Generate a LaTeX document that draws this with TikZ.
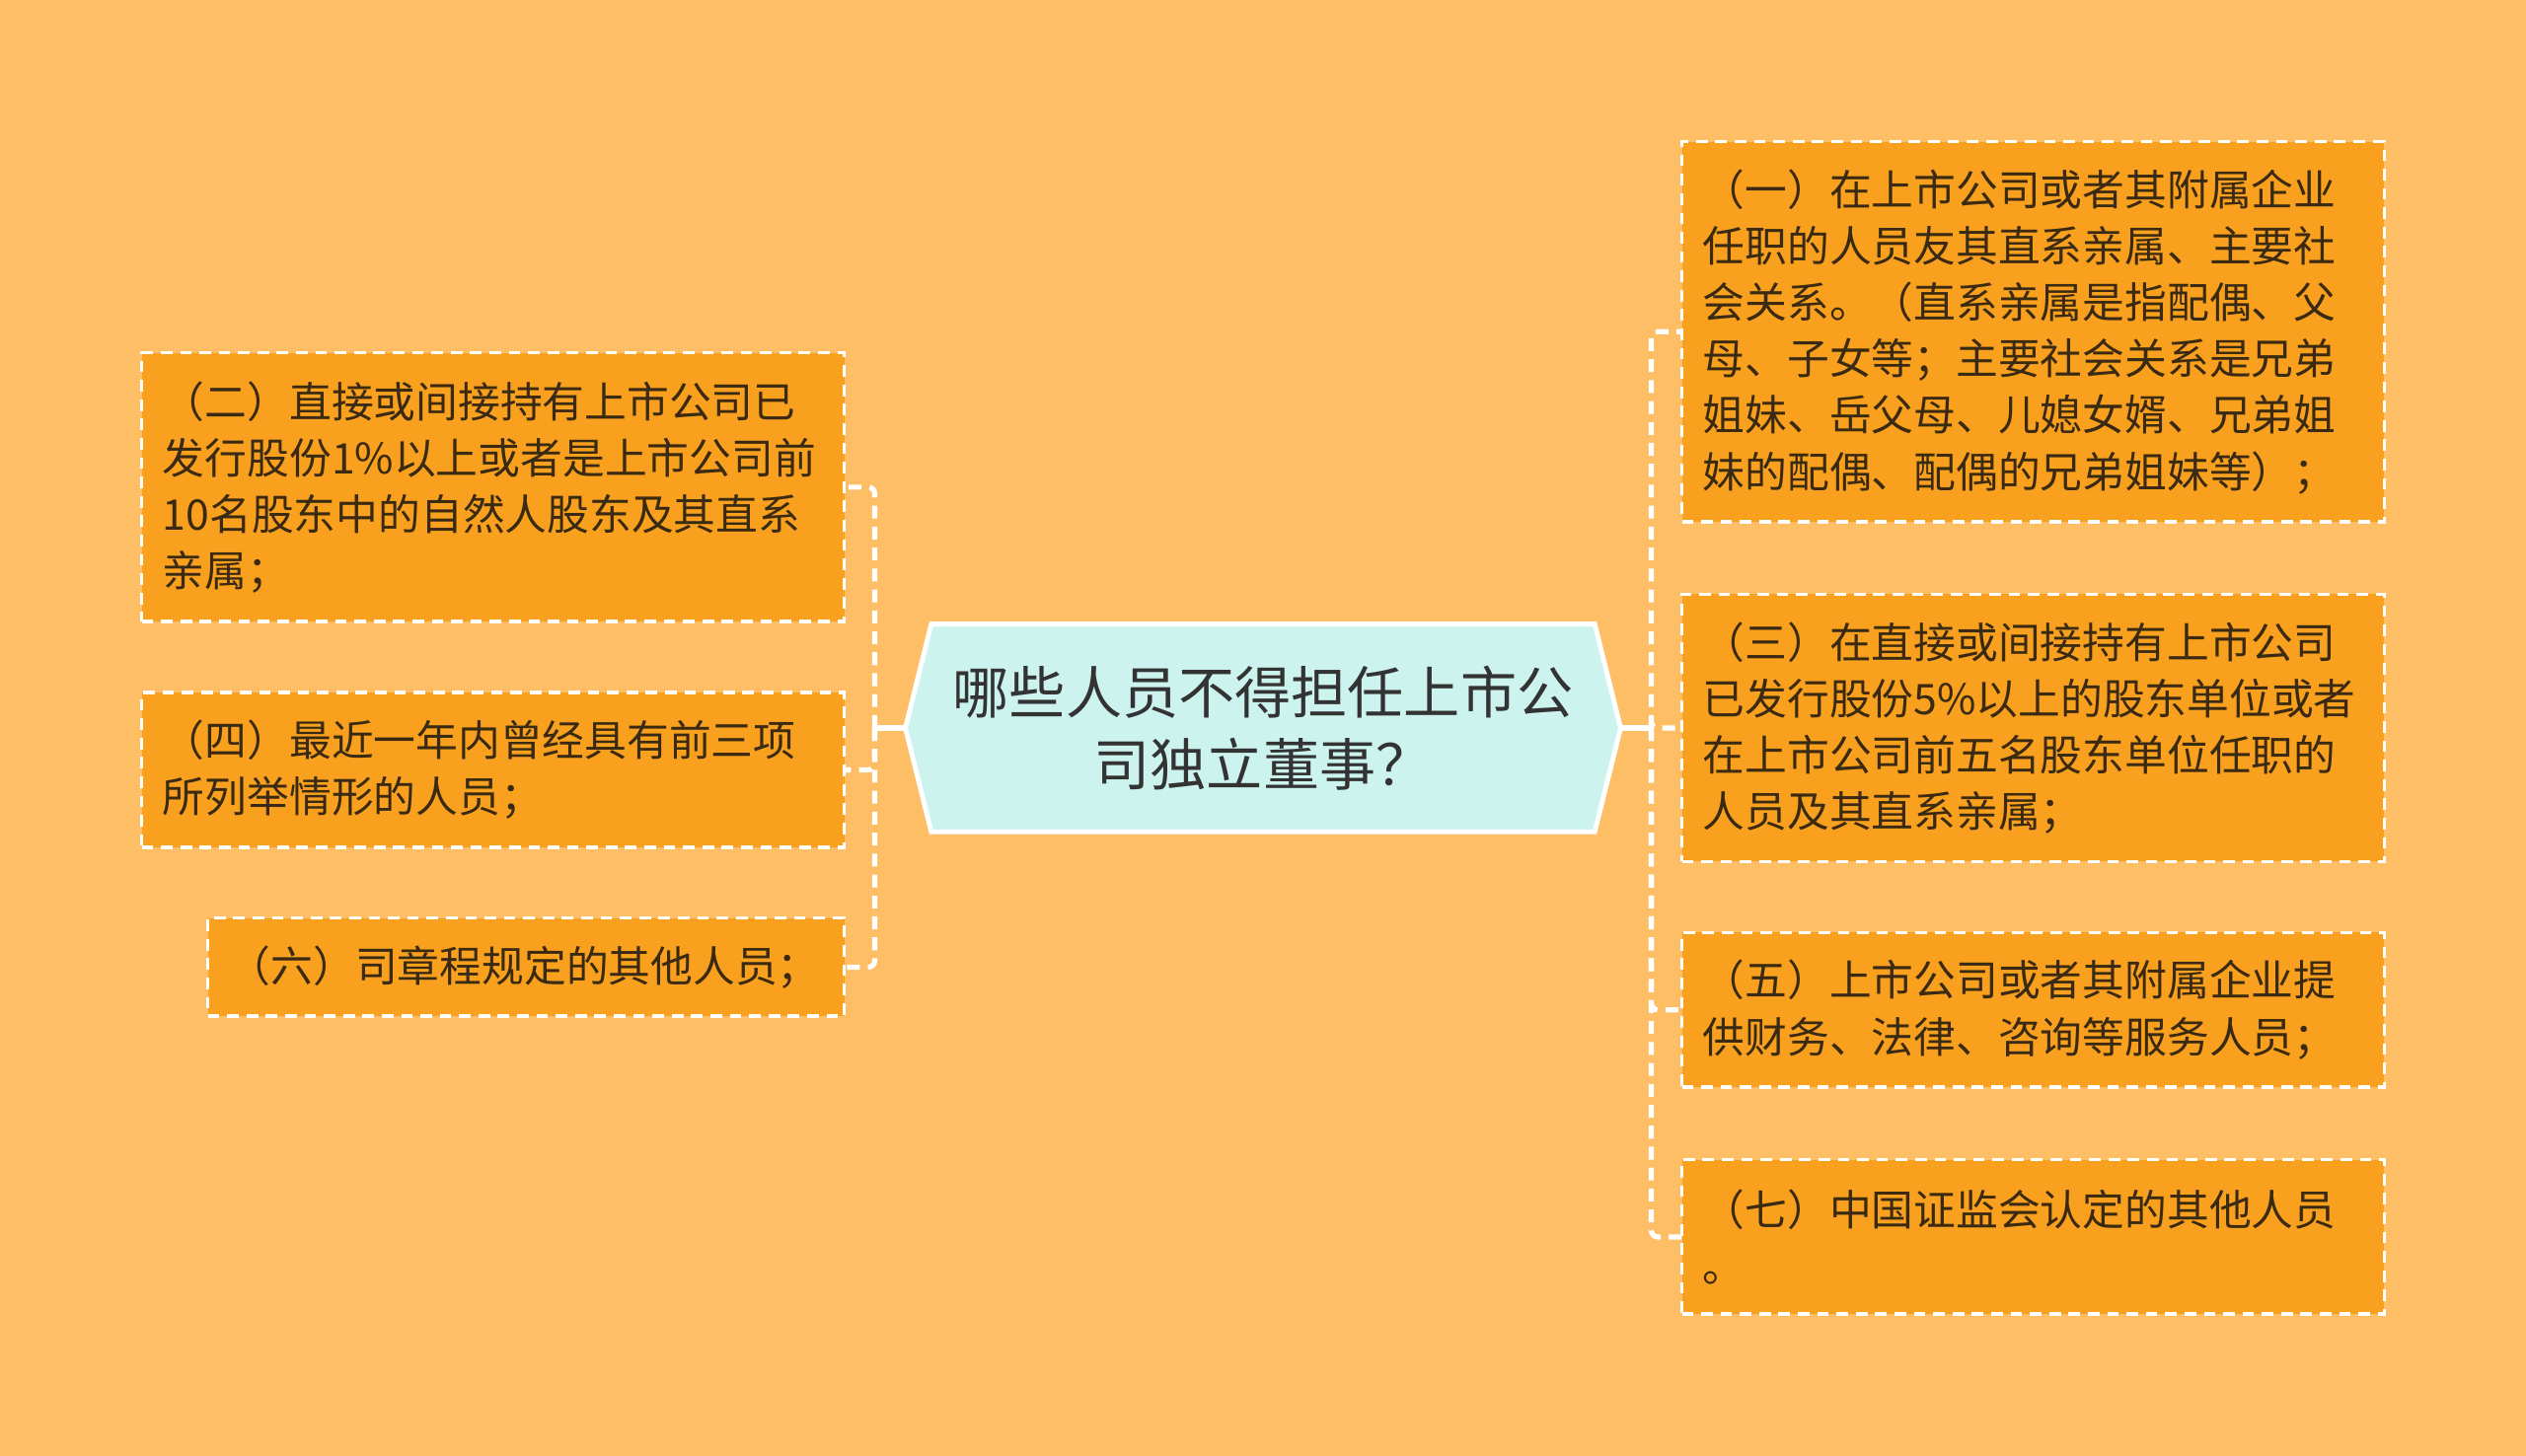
\documentclass[tikz,border=0pt]{standalone}
\usepackage{fontspec}
\setmainfont{Noto Sans CJK SC}
\usepackage{tikz}
\usetikzlibrary{positioning}
\usetikzlibrary{shapes.symbols}

\definecolor{canvas}{HTML}{FDBE66}
\definecolor{boxfill}{HTML}{F9A11F}
\definecolor{topicfill}{HTML}{CDF3EF}
\definecolor{inktext}{HTML}{3A2A12}

\begin{document}
\begin{tikzpicture}[x=0.5pt,y=-0.5pt,
	item/.style={minimum width=218pt,text width=205pt,inner xsep=6.5pt,inner ysep=0pt,outer sep=0pt,fill=boxfill,draw=white,line width=1.1pt,dash pattern=on 3.6pt off 2.4pt,align=left,text=inktext,font=\fontsize{13.1pt}{17.5pt}\selectfont},
	link/.style={draw=white,line width=1.6pt,dash pattern=on 4pt off 2.5pt,rounded corners=2pt},
	stem/.style={draw=white,line width=1.6pt}]
	\fill [canvas] (0,0) rectangle (1568,904);

	\node [signal,signal to=west and east,signal pointer angle=152,minimum width=222pt,minimum height=64.5pt,inner sep=0pt,outer sep=0pt,fill=topicfill,draw=white,line width=1.5pt,align=center,text=black!80,font=\fontsize{17.5pt}{22.5pt}\selectfont] at (784,452) (topic) {哪些人员不得担任上市公\\司独立董事？};

	\node [item,minimum height=118pt,anchor=north west] at (1044,88) (b1) {（一）在上市公司或者其附属企业\\任职的人员友其直系亲属、主要社\\会关系。（直系亲属是指配偶、父\\母、子女等；主要社会关系是兄弟\\姐妹、岳父母、儿媳女婿、兄弟姐\\妹的配偶、配偶的兄弟姐妹等）；};
	\node [item,minimum height=83pt,below=22.5pt of b1] (b3) {（三）在直接或间接持有上市公司\\已发行股份5\%以上的股东单位或者\\在上市公司前五名股东单位任职的\\人员及其直系亲属；};
	\node [item,minimum height=48pt,below=22pt of b3] (b5) {（五）上市公司或者其附属企业提\\供财务、法律、咨询等服务人员；};
	\node [item,minimum height=48pt,below=22.5pt of b5] (b7) {（七）中国证监会认定的其他人员\\。};

	\node [item,minimum width=217.5pt,minimum height=83.5pt,anchor=north west] at (88,219) (b2) {（二）直接或间接持有上市公司已\\发行股份1\%以上或者是上市公司前\\10名股东中的自然人股东及其直系\\亲属；};
	\node [item,minimum width=217.5pt,minimum height=48pt,below=22pt of b2] (b4) {（四）最近一年内曾经具有前三项\\所列举情形的人员；};
	\node [item,minimum width=197.5pt,text width=184.5pt,minimum height=30.5pt,below=22pt of b4.south east,anchor=north east] (b6) {（六）司章程规定的其他人员；};

	\coordinate (ltrunk) at (543,452);
	\coordinate (rtrunk) at (1025,452);

	\draw [stem] (topic.west) -- (ltrunk);
	\draw [link] (ltrunk) |- (b2.east);
	\draw [link] (ltrunk) |- (b4.east);
	\draw [link] (ltrunk) |- (b6.east);

	\draw [stem] (topic.east) -- (rtrunk);
	\draw [link] (rtrunk) |- (b1.west);
	\draw [link] (rtrunk) |- (b3.west);
	\draw [link] (rtrunk) |- (b5.west);
	\draw [link] (rtrunk) |- (b7.west);
\end{tikzpicture}
\end{document}
